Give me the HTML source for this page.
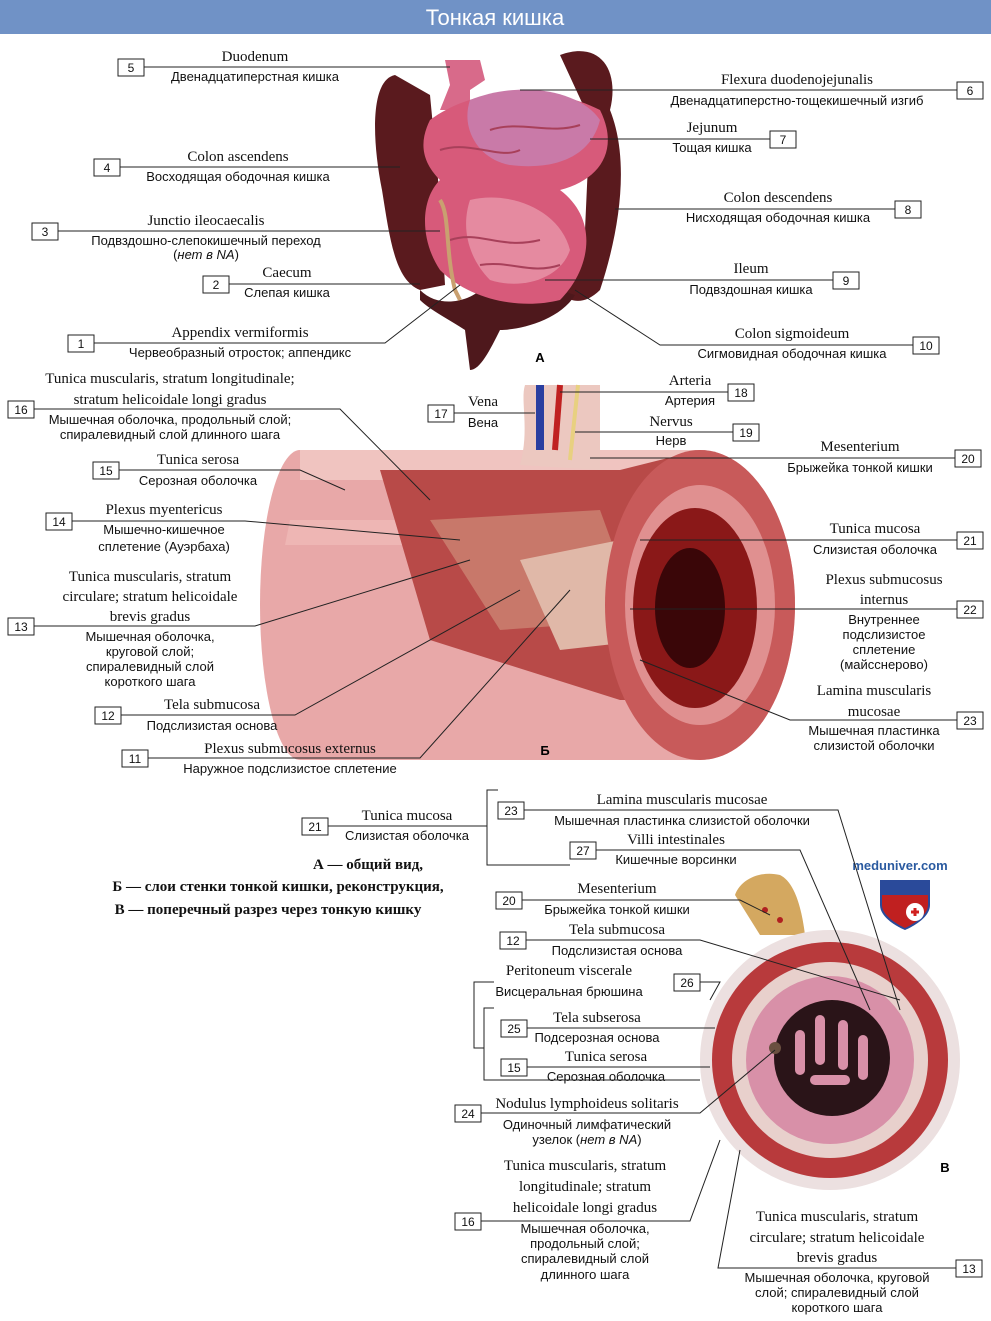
<!DOCTYPE html>
<html><head><meta charset="utf-8"><style>
html,body{margin:0;padding:0;background:#fff}
svg{display:block}
.l{font-family:"Liberation Serif",serif;font-size:15px;fill:#111;text-anchor:middle}
.r{font-family:"Liberation Sans",sans-serif;font-size:13px;fill:#111;text-anchor:middle}
.n{font-family:"Liberation Sans",sans-serif;font-size:12px;fill:#111;text-anchor:middle}
.b{fill:#fff;stroke:#222;stroke-width:1}
.ln{stroke:#222;stroke-width:1;fill:none}
.cap{font-family:"Liberation Serif",serif;font-size:15px;font-weight:bold;fill:#111;text-anchor:middle}
</style></head><body>
<svg width="991" height="1321" viewBox="0 0 991 1321" xmlns="http://www.w3.org/2000/svg">
<rect x="0" y="0" width="991" height="34" fill="#7092c6"/>
<text x="495" y="25" font-family="Liberation Sans,sans-serif" font-size="22" fill="#fff" text-anchor="middle">Тонкая кишка</text>

<!-- A illustration -->
<g>
<path d="M395,75 C370,80 372,140 382,190 C390,240 395,280 420,290 L445,285 L440,200 L430,95 Z" fill="#5a1a1e"/>
<path d="M560,55 C600,40 620,70 610,110 C630,160 620,230 600,290 C580,310 560,300 555,280 L585,230 L590,120 Z" fill="#5a1a1e"/>
<path d="M420,290 C440,310 470,300 480,290 C500,300 540,310 560,290 L575,295 C560,320 520,330 500,330 C490,350 480,370 470,370 L465,330 C450,320 430,310 420,300 Z" fill="#4e181c"/>
<path d="M445,60 L480,60 L485,80 L470,90 L470,110 L440,110 L450,85 Z" fill="#d86a8a"/>
<path d="M430,120 C470,90 540,80 600,110 C620,150 600,180 560,190 C600,220 590,270 560,300 C520,310 470,300 440,270 C420,240 420,200 440,180 C420,160 420,140 430,120 Z" fill="#d75a7a"/>
<path d="M470,100 C520,80 580,90 600,120 C590,160 550,170 510,165 C480,160 460,130 470,100 Z" fill="#c97aa8"/>
<path d="M470,200 C510,190 560,210 570,250 C560,280 520,290 490,280 C470,260 460,230 470,200 Z" fill="#e58aa0"/>
<g stroke="#a8405a" stroke-width="2" fill="none">
<path d="M440,150 C470,140 500,160 520,150"/><path d="M450,240 C480,230 500,250 540,240"/><path d="M480,265 C510,260 530,275 560,265"/><path d="M490,130 C520,120 550,135 580,125"/>
</g>
<path d="M440,200 C450,215 445,250 455,290 L460,300" stroke="#c9a070" stroke-width="4" fill="none"/>
</g>
<text x="540" y="362" font-family="Liberation Sans,sans-serif" font-weight="bold" font-size="13" text-anchor="middle">А</text>

<!-- A labels -->
<rect class="b" x="118" y="59" width="26" height="17"/><text class="n" x="131" y="72">5</text>
<text class="l" x="255" y="61">Duodenum</text><line class="ln" x1="144" y1="67" x2="450" y2="67"/><text class="r" x="255" y="81">Двенадцатиперстная кишка</text>
<rect class="b" x="94" y="159" width="26" height="17"/><text class="n" x="107" y="172">4</text>
<text class="l" x="238" y="161">Colon ascendens</text><line class="ln" x1="120" y1="167" x2="400" y2="167"/><text class="r" x="238" y="181">Восходящая ободочная кишка</text>
<rect class="b" x="32" y="223" width="26" height="17"/><text class="n" x="45" y="236">3</text>
<text class="l" x="206" y="225">Junctio ileocaecalis</text><line class="ln" x1="58" y1="231" x2="440" y2="231"/><text class="r" x="206" y="245">Подвздошно-слепокишечный переход</text><text class="r" x="206" y="259">(<tspan font-style="italic">нет в NA</tspan>)</text>
<rect class="b" x="203" y="276" width="26" height="17"/><text class="n" x="216" y="289">2</text>
<text class="l" x="287" y="277">Caecum</text><line class="ln" x1="229" y1="284" x2="420" y2="284"/><text class="r" x="287" y="297">Слепая кишка</text>
<rect class="b" x="68" y="335" width="26" height="17"/><text class="n" x="81" y="348">1</text>
<text class="l" x="240" y="337">Appendix vermiformis</text><polyline class="ln" points="94,343 385,343 460,285"/><text class="r" x="240" y="357">Червеобразный отросток; аппендикс</text>

<rect class="b" x="957" y="82" width="26" height="17"/><text class="n" x="970" y="95">6</text>
<text class="l" x="797" y="84">Flexura duodenojejunalis</text><line class="ln" x1="520" y1="90" x2="957" y2="90"/><text class="r" x="797" y="105">Двенадцатиперстно-тощекишечный изгиб</text>
<rect class="b" x="770" y="131" width="26" height="17"/><text class="n" x="783" y="144">7</text>
<text class="l" x="712" y="132">Jejunum</text><line class="ln" x1="590" y1="139" x2="770" y2="139"/><text class="r" x="712" y="152">Тощая кишка</text>
<rect class="b" x="895" y="201" width="26" height="17"/><text class="n" x="908" y="214">8</text>
<text class="l" x="778" y="202">Colon descendens</text><line class="ln" x1="615" y1="209" x2="895" y2="209"/><text class="r" x="778" y="222">Нисходящая ободочная кишка</text>
<rect class="b" x="833" y="272" width="26" height="17"/><text class="n" x="846" y="285">9</text>
<text class="l" x="751" y="273">Ileum</text><line class="ln" x1="545" y1="280" x2="833" y2="280"/><text class="r" x="751" y="294">Подвздошная кишка</text>
<rect class="b" x="913" y="337" width="26" height="17"/><text class="n" x="926" y="350">10</text>
<text class="l" x="792" y="338">Colon sigmoideum</text><polyline class="ln" points="575,290 660,345 913,345"/><text class="r" x="792" y="358">Сигмовидная ободочная кишка</text>

<!-- Б illustration -->
<path d="M300,450 L700,450 A95,155 0 0 1 700,760 L300,760 A40,155 0 0 1 300,450 Z" fill="#e8a8a8"/>
<path d="M300,450 L700,450 L700,480 L300,480 Z" fill="#f0c4c0"/>
<path d="M290,520 L600,520 L600,545 L285,545 Z" fill="#f2c0bc" opacity="0.6"/>
<path d="M380,470 L620,470 L700,450 L700,700 L620,700 L430,640 Z" fill="#b84a48"/>
<path d="M430,520 L600,510 L640,620 L500,630 Z" fill="#c8786a"/>
<path d="M520,560 L620,540 L650,640 L560,650 Z" fill="#e0b8a8"/>
<ellipse cx="700" cy="605" rx="95" ry="155" fill="#c85a5a"/>
<ellipse cx="700" cy="605" rx="75" ry="120" fill="#e09090"/>
<ellipse cx="695" cy="608" rx="62" ry="100" fill="#8a1818"/>
<ellipse cx="690" cy="608" rx="35" ry="60" fill="#3a0608"/>
<path d="M520,465 C530,430 520,400 525,385 L600,385 C600,420 600,450 600,470 Z" fill="#ecc8c0"/>
<path d="M540,385 L540,450" stroke="#2a3ea0" stroke-width="8"/>
<path d="M560,385 L555,450" stroke="#c02020" stroke-width="6"/>
<path d="M578,385 L570,460" stroke="#e8d080" stroke-width="4"/>
<text x="545" y="755" font-family="Liberation Sans,sans-serif" font-weight="bold" font-size="13" text-anchor="middle">Б</text>

<!-- Б labels -->
<rect class="b" x="8" y="401" width="26" height="17"/><text class="n" x="21" y="414">16</text>
<text class="l" x="170" y="383">Tunica muscularis, stratum longitudinale;</text><text class="l" x="170" y="404">stratum helicoidale longi gradus</text>
<polyline class="ln" points="34,409 340,409 430,500"/>
<text class="r" x="170" y="424">Мышечная оболочка, продольный слой;</text><text class="r" x="170" y="439">спиралевидный слой длинного шага</text>
<rect class="b" x="428" y="405" width="26" height="17"/><text class="n" x="441" y="418">17</text>
<text class="l" x="483" y="406">Vena</text><line class="ln" x1="454" y1="413" x2="535" y2="413"/><text class="r" x="483" y="427">Вена</text>
<rect class="b" x="728" y="384" width="26" height="17"/><text class="n" x="741" y="397">18</text>
<text class="l" x="690" y="385">Arteria</text><line class="ln" x1="560" y1="392" x2="728" y2="392"/><text class="r" x="690" y="405">Артерия</text>
<rect class="b" x="733" y="424" width="26" height="17"/><text class="n" x="746" y="437">19</text>
<text class="l" x="671" y="426">Nervus</text><line class="ln" x1="575" y1="432" x2="733" y2="432"/><text class="r" x="671" y="445">Нерв</text>
<rect class="b" x="955" y="450" width="26" height="17"/><text class="n" x="968" y="463">20</text>
<text class="l" x="860" y="451">Mesenterium</text><line class="ln" x1="590" y1="458" x2="955" y2="458"/><text class="r" x="860" y="472">Брыжейка тонкой кишки</text>
<rect class="b" x="93" y="462" width="26" height="17"/><text class="n" x="106" y="475">15</text>
<text class="l" x="198" y="464">Tunica serosa</text><polyline class="ln" points="119,470 300,470 345,490"/><text class="r" x="198" y="485">Серозная оболочка</text>
<rect class="b" x="46" y="513" width="26" height="17"/><text class="n" x="59" y="526">14</text>
<text class="l" x="164" y="514">Plexus myentericus</text><polyline class="ln" points="72,521 245,521 460,540"/><text class="r" x="164" y="534">Мышечно-кишечное</text><text class="r" x="164" y="551">сплетение (Ауэрбаха)</text>
<rect class="b" x="957" y="532" width="26" height="17"/><text class="n" x="970" y="545">21</text>
<text class="l" x="875" y="533">Tunica mucosa</text><line class="ln" x1="640" y1="540" x2="957" y2="540"/><text class="r" x="875" y="554">Слизистая оболочка</text>
<rect class="b" x="8" y="618" width="26" height="17"/><text class="n" x="21" y="631">13</text>
<text class="l" x="150" y="581">Tunica muscularis, stratum</text><text class="l" x="150" y="601">circulare; stratum helicoidale</text><text class="l" x="150" y="621">brevis gradus</text>
<polyline class="ln" points="34,626 255,626 470,560"/>
<text class="r" x="150" y="641">Мышечная оболочка,</text><text class="r" x="150" y="656">круговой слой;</text><text class="r" x="150" y="671">спиралевидный слой</text><text class="r" x="150" y="686">короткого шага</text>
<rect class="b" x="957" y="601" width="26" height="17"/><text class="n" x="970" y="614">22</text>
<text class="l" x="884" y="584">Plexus submucosus</text><text class="l" x="884" y="604">internus</text><line class="ln" x1="630" y1="609" x2="957" y2="609"/>
<text class="r" x="884" y="624">Внутреннее</text><text class="r" x="884" y="639">подслизистое</text><text class="r" x="884" y="654">сплетение</text><text class="r" x="884" y="669">(майсснерово)</text>
<rect class="b" x="957" y="712" width="26" height="17"/><text class="n" x="970" y="725">23</text>
<text class="l" x="874" y="695">Lamina muscularis</text><text class="l" x="874" y="716">mucosae</text><polyline class="ln" points="640,660 790,720 957,720"/>
<text class="r" x="874" y="735">Мышечная пластинка</text><text class="r" x="874" y="750">слизистой оболочки</text>
<rect class="b" x="95" y="707" width="26" height="17"/><text class="n" x="108" y="720">12</text>
<text class="l" x="212" y="709">Tela submucosa</text><polyline class="ln" points="121,715 295,715 520,590"/><text class="r" x="212" y="730">Подслизистая основа</text>
<rect class="b" x="122" y="750" width="26" height="17"/><text class="n" x="135" y="763">11</text>
<text class="l" x="290" y="753">Plexus submucosus externus</text><polyline class="ln" points="148,758 420,758 570,590"/><text class="r" x="290" y="773">Наружное подслизистое сплетение</text>

<!-- В illustration -->
<path d="M735,895 C740,880 760,870 780,875 C790,880 800,895 805,935 L760,935 Z" fill="#d4a860"/>
<circle cx="765" cy="910" r="3" fill="#b02020"/><circle cx="780" cy="920" r="3" fill="#b02020"/>
<circle cx="830" cy="1060" r="130" fill="#ece0e0"/>
<circle cx="830" cy="1060" r="118" fill="#b83a3c"/>
<circle cx="830" cy="1060" r="98" fill="#e8d0cc"/>
<circle cx="830" cy="1060" r="84" fill="#d890a8"/>
<circle cx="832" cy="1058" r="58" fill="#2a1418"/>
<g fill="#d890a8">
<rect x="795" y="1030" width="10" height="45" rx="5"/><rect x="815" y="1015" width="10" height="50" rx="5"/>
<rect x="838" y="1020" width="10" height="50" rx="5"/><rect x="858" y="1035" width="10" height="45" rx="5"/>
<rect x="810" y="1075" width="40" height="10" rx="5"/>
</g>
<circle cx="775" cy="1048" r="6" fill="#6a5040"/>
<text x="945" y="1172" font-family="Liberation Sans,sans-serif" font-weight="bold" font-size="13" text-anchor="middle">В</text>
<text x="900" y="870" font-family="Liberation Sans,sans-serif" font-weight="bold" font-size="13" fill="#2a5aa0" text-anchor="middle">meduniver.com</text>
<path d="M880,880 L930,880 L930,905 C930,920 905,930 905,930 C905,930 880,920 880,905 Z" fill="#2a4a9a"/>
<path d="M882,895 L928,895 L928,905 C928,918 905,928 905,928 C905,928 882,918 882,905 Z" fill="#c02020"/>
<circle cx="915" cy="912" r="9" fill="#fff"/><path d="M911,912 h8 M915,908 v8" stroke="#d02020" stroke-width="3"/>

<!-- В labels -->
<rect class="b" x="302" y="818" width="26" height="17"/><text class="n" x="315" y="831">21</text>
<text class="l" x="407" y="820">Tunica mucosa</text><line class="ln" x1="328" y1="826" x2="487" y2="826"/><text class="r" x="407" y="840">Слизистая оболочка</text>
<polyline class="ln" points="498,790 487,790 487,865 570,865"/>
<rect class="b" x="498" y="802" width="26" height="17"/><text class="n" x="511" y="815">23</text>
<text class="l" x="682" y="804">Lamina muscularis mucosae</text><polyline class="ln" points="524,810 838,810 900,1010"/><text class="r" x="682" y="825">Мышечная пластинка слизистой оболочки</text>
<rect class="b" x="570" y="842" width="26" height="17"/><text class="n" x="583" y="855">27</text>
<text class="l" x="676" y="844">Villi intestinales</text><polyline class="ln" points="596,850 800,850 870,1010"/><text class="r" x="676" y="864">Кишечные ворсинки</text>
<text class="cap" x="368" y="869">А — общий вид,</text>
<text class="cap" x="278" y="891">Б — слои стенки тонкой кишки, реконструкция,</text>
<text class="cap" x="268" y="914">В — поперечный разрез через тонкую кишку</text>
<rect class="b" x="496" y="892" width="26" height="17"/><text class="n" x="509" y="905">20</text>
<text class="l" x="617" y="893">Mesenterium</text><polyline class="ln" points="522,900 740,900 770,915"/><text class="r" x="617" y="914">Брыжейка тонкой кишки</text>
<rect class="b" x="500" y="932" width="26" height="17"/><text class="n" x="513" y="945">12</text>
<text class="l" x="617" y="934">Tela submucosa</text><polyline class="ln" points="526,940 700,940 900,1000"/><text class="r" x="617" y="955">Подслизистая основа</text>
<rect class="b" x="674" y="974" width="26" height="17"/><text class="n" x="687" y="987">26</text>
<text class="l" x="569" y="975">Peritoneum viscerale</text><polyline class="ln" points="700,982 720,982 710,1000"/><text class="r" x="569" y="996">Висцеральная брюшина</text>
<polyline class="ln" points="494,982 474,982 474,1048 484,1048"/>
<rect class="b" x="501" y="1020" width="26" height="17"/><text class="n" x="514" y="1033">25</text>
<text class="l" x="597" y="1022">Tela subserosa</text><line class="ln" x1="527" y1="1028" x2="715" y2="1028"/><text class="r" x="597" y="1042">Подсерозная основа</text>
<rect class="b" x="501" y="1059" width="26" height="17"/><text class="n" x="514" y="1072">15</text>
<text class="l" x="606" y="1061">Tunica serosa</text><line class="ln" x1="527" y1="1067" x2="710" y2="1067"/><text class="r" x="606" y="1081">Серозная оболочка</text>
<polyline class="ln" points="494,1008 484,1008 484,1080 700,1080"/>
<rect class="b" x="455" y="1105" width="26" height="17"/><text class="n" x="468" y="1118">24</text>
<text class="l" x="587" y="1108">Nodulus lymphoideus solitaris</text><polyline class="ln" points="481,1113 700,1113 775,1050"/><text class="r" x="587" y="1129">Одиночный лимфатический</text><text class="r" x="587" y="1144">узелок (<tspan font-style="italic">нет в NA</tspan>)</text>
<rect class="b" x="455" y="1213" width="26" height="17"/><text class="n" x="468" y="1226">16</text>
<text class="l" x="585" y="1170">Tunica muscularis, stratum</text><text class="l" x="585" y="1191">longitudinale; stratum</text><text class="l" x="585" y="1212">helicoidale longi gradus</text>
<polyline class="ln" points="481,1221 690,1221 720,1140"/>
<text class="r" x="585" y="1233">Мышечная оболочка,</text><text class="r" x="585" y="1248">продольный слой;</text><text class="r" x="585" y="1263">спиралевидный слой</text><text class="r" x="585" y="1279">длинного шага</text>
<rect class="b" x="956" y="1260" width="26" height="17"/><text class="n" x="969" y="1273">13</text>
<text class="l" x="837" y="1221">Tunica muscularis, stratum</text><text class="l" x="837" y="1242">circulare; stratum helicoidale</text><text class="l" x="837" y="1262">brevis gradus</text>
<polyline class="ln" points="956,1268 718,1268 740,1150"/>
<text class="r" x="837" y="1282">Мышечная оболочка, круговой</text><text class="r" x="837" y="1297">слой; спиралевидный слой</text><text class="r" x="837" y="1312">короткого шага</text>
</svg>
</body></html>
